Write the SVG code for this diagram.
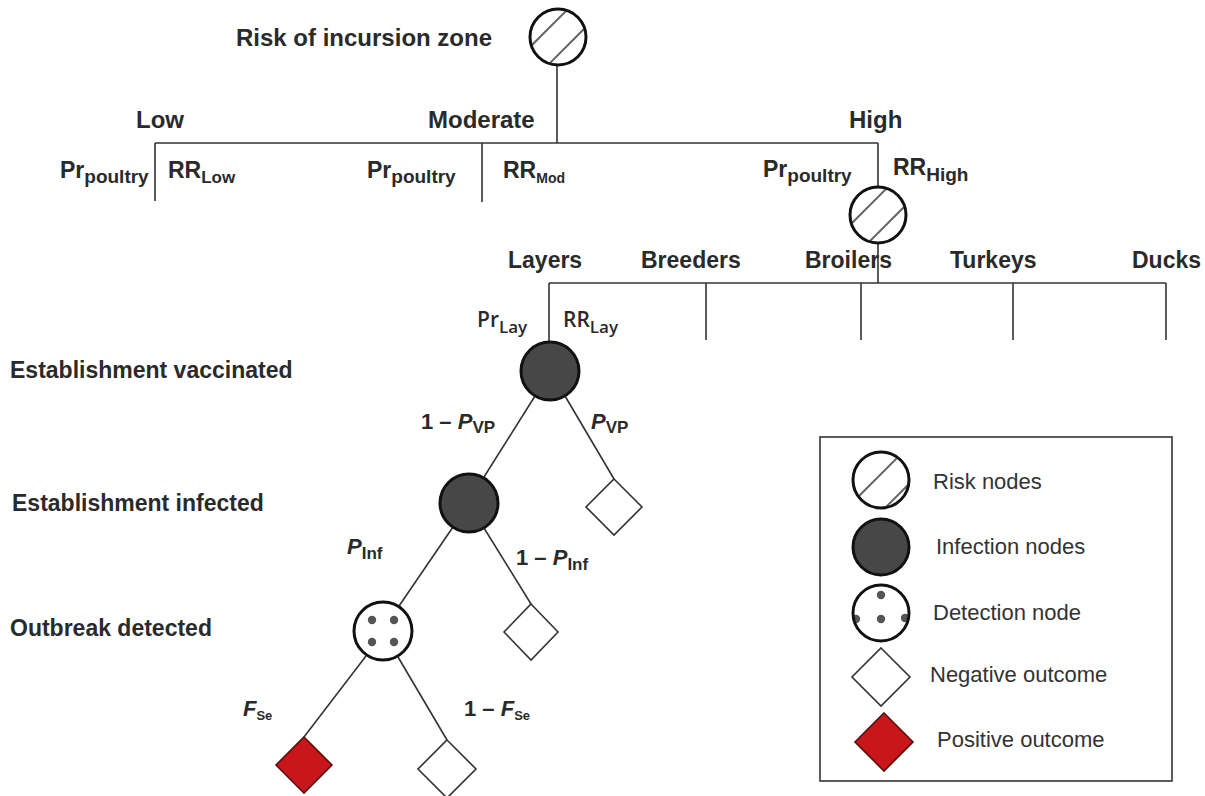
<svg xmlns="http://www.w3.org/2000/svg" width="1205" height="796" viewBox="0 0 1205 796">
<style>
.ln{stroke:#333;stroke-width:1.6;fill:none}
.t{font-family:"Liberation Sans",Arial,sans-serif;font-weight:bold;fill:#2a2a2a}
.big{font-size:24px}
.lab{font-size:23px}
.pr{font-size:23px}
.sb{font-size:17px}
.sp{font-size:19px}
.os{font-family:"Open Sans","Liberation Sans",sans-serif;font-weight:600;fill:#2a2a2a;font-size:21px}
.oss{font-size:17px}
.lg{font-family:"Liberation Sans",Arial,sans-serif;font-size:22px;fill:#333}
.ci{stroke:#111;stroke-width:3}
.inf{fill:#474747;stroke:#111;stroke-width:3}
.hat{stroke:#666;stroke-width:2}
.dot{fill:#555}
.neg{fill:#fff;stroke:#333;stroke-width:1.6}
.pos{fill:#c8161a;stroke:#5a1010;stroke-width:1.6}
.it{font-style:italic}
</style>
<defs>
<clipPath id="cc"><circle cx="0" cy="0" r="27"/></clipPath>
<g id="risk">
<circle cx="0" cy="0" r="28" fill="#fff"/>
<g clip-path="url(#cc)">
<line class="hat" x1="-40" y1="22" x2="22" y2="-40"/>
<line class="hat" x1="-22" y1="40" x2="40" y2="-22"/>
</g>
<circle cx="0" cy="0" r="28" fill="none" class="ci"/>
</g>
</defs>
<rect width="1205" height="796" fill="#fff"/>

<g id="connectors">
<line class="ln" x1="557" y1="66" x2="557" y2="143"/>
<line class="ln" x1="155" y1="143" x2="878" y2="143"/>
<line class="ln" x1="155" y1="143" x2="155" y2="201"/>
<line class="ln" x1="482" y1="143" x2="482" y2="202"/>
<line class="ln" x1="878" y1="143" x2="878" y2="187"/>
<line class="ln" x1="878" y1="243" x2="878" y2="283"/>
<line class="ln" x1="549" y1="283" x2="1166" y2="283"/>
<line class="ln" x1="549" y1="283" x2="549" y2="342"/>
<line class="ln" x1="706" y1="283" x2="706" y2="340"/>
<line class="ln" x1="861" y1="283" x2="861" y2="340"/>
<line class="ln" x1="1013" y1="283" x2="1013" y2="340"/>
<line class="ln" x1="1166" y1="283" x2="1166" y2="340"/>
<line class="ln" x1="535" y1="396" x2="484" y2="477"/>
<line class="ln" x1="565" y1="396" x2="614" y2="479"/>
<line class="ln" x1="453" y1="527" x2="399" y2="606"/>
<line class="ln" x1="484" y1="528" x2="531" y2="604"/>
<line class="ln" x1="366" y1="656" x2="304" y2="737"/>
<line class="ln" x1="398" y1="657" x2="447" y2="740"/>
</g>

<g id="risk-zone">
<use href="#risk" x="558" y="37"/>
<text class="t big" x="236" y="46">Risk of incursion zone</text>
</g>

<g id="zone-labels">
<text class="t big" x="136" y="128">Low</text>
<text class="t big" x="428" y="128">Moderate</text>
<text class="t big" x="849" y="128">High</text>
<text class="t pr" x="60" y="178">Pr<tspan class="sp" dy="5">poultry</tspan></text>
<text class="t pr" x="168" y="178">RR<tspan class="sb" dy="5">Low</tspan></text>
<text class="t pr" x="367" y="178">Pr<tspan class="sp" dy="5">poultry</tspan></text>
<text class="t pr" x="503" y="178">RR<tspan dy="5" style="font-size:14px">Mod</tspan></text>
<text class="t pr" x="763" y="177">Pr<tspan class="sp" dy="5">poultry</tspan></text>
<text class="t pr" x="893" y="175">RR<tspan style="font-size:19px" dy="6">High</tspan></text>
</g>

<g id="poultry-node">
<use href="#risk" x="878" y="215"/>
</g>

<g id="poultry-labels">
<text class="t lab" x="508" y="268">Layers</text>
<text class="t lab" x="641" y="268">Breeders</text>
<text class="t lab" x="805" y="268">Broilers</text>
<text class="t lab" x="950" y="268">Turkeys</text>
<text class="t lab" x="1132" y="268">Ducks</text>
<text class="os" x="477" y="327">Pr<tspan class="oss" dy="6">Lay</tspan></text>
<text class="os" x="563" y="327">RR<tspan class="oss" dy="6">Lay</tspan></text>
</g>

<g id="level-labels">
<text class="t lab" x="10" y="378">Establishment vaccinated</text>
<text class="t lab" x="12" y="511">Establishment infected</text>
<text class="t lab" x="10" y="636">Outbreak detected</text>
</g>

<g id="vaccinated-node">
<circle class="inf" cx="550" cy="371" r="29"/>
</g>
<g id="vp-labels">
<text class="t" style="font-size:22px" x="421" y="429">1 – <tspan class="it">P</tspan><tspan class="sb" dy="4">VP</tspan></text>
<text class="t" style="font-size:22px" x="591" y="429"><tspan class="it">P</tspan><tspan class="sb" dy="4">VP</tspan></text>
</g>
<g id="vp-outcome">
<polygon class="neg" points="614,479 642,507 614,535 586,507"/>
</g>

<g id="infected-node">
<circle class="inf" cx="469" cy="503" r="29"/>
</g>
<g id="inf-labels">
<text class="t" style="font-size:22px" x="347" y="554"><tspan class="it">P</tspan><tspan class="sb" dy="5">Inf</tspan></text>
<text class="t" style="font-size:22px" x="516" y="565">1 – <tspan class="it">P</tspan><tspan class="sb" dy="5">Inf</tspan></text>
</g>
<g id="inf-outcome">
<polygon class="neg" points="531,604 558,632 531,660 504,632"/>
</g>

<g id="detection-node">
<circle cx="383" cy="631" r="29" fill="#fff" class="ci"/>
<circle class="dot" cx="372" cy="620" r="4.2"/>
<circle class="dot" cx="394" cy="620" r="4.2"/>
<circle class="dot" cx="372" cy="642" r="4.2"/>
<circle class="dot" cx="394" cy="642" r="4.2"/>
</g>
<g id="se-labels">
<text class="t" style="font-size:22px" x="243" y="716"><tspan class="it">F</tspan><tspan dy="4" style="font-size:13px">Se</tspan></text>
<text class="t" style="font-size:22px" x="464" y="716">1 – <tspan class="it">F</tspan><tspan dy="4" style="font-size:13px">Se</tspan></text>
</g>
<g id="positive-outcome">
<polygon class="pos" points="304,737 332,765 304,793 276,765"/>
</g>
<g id="negative-outcome">
<polygon class="neg" points="447,740 476,769 447,798 418,769"/>
</g>

<g id="legend">
<rect x="820" y="437" width="352" height="344" fill="#fff" stroke="#333" stroke-width="1.6"/>
<circle cx="881" cy="480" r="28" fill="#fff"/>
<clipPath id="lc"><circle cx="881" cy="480" r="27"/></clipPath>
<g clip-path="url(#lc)">
<line class="hat" x1="840" y1="515" x2="920" y2="435"/>
<line class="hat" x1="870" y1="523" x2="930" y2="463"/>
</g>
<circle cx="881" cy="480" r="28" fill="none" class="ci"/>
<text class="lg" x="933" y="489">Risk nodes</text>
<circle class="inf" cx="881" cy="547" r="28"/>
<text class="lg" x="936" y="554">Infection nodes</text>
<clipPath id="dc"><circle cx="881" cy="613" r="27"/></clipPath>
<circle cx="881" cy="613" r="28" fill="#fff"/>
<g clip-path="url(#dc)">
<circle class="dot" cx="881" cy="595" r="4.2"/>
<circle class="dot" cx="881" cy="619" r="4.2"/>
<circle class="dot" cx="856" cy="619" r="4.2"/>
<circle class="dot" cx="905" cy="618" r="4.2"/>
</g>
<circle cx="881" cy="613" r="28" fill="none" class="ci"/>
<text class="lg" x="933" y="620">Detection node</text>
<polygon class="neg" points="881,648 910,677 881,706 852,677"/>
<text class="lg" x="930" y="682">Negative outcome</text>
<polygon class="pos" points="884,713 913,742 884,771 855,742"/>
<text class="lg" x="937" y="747">Positive outcome</text>
</g>
</svg>
